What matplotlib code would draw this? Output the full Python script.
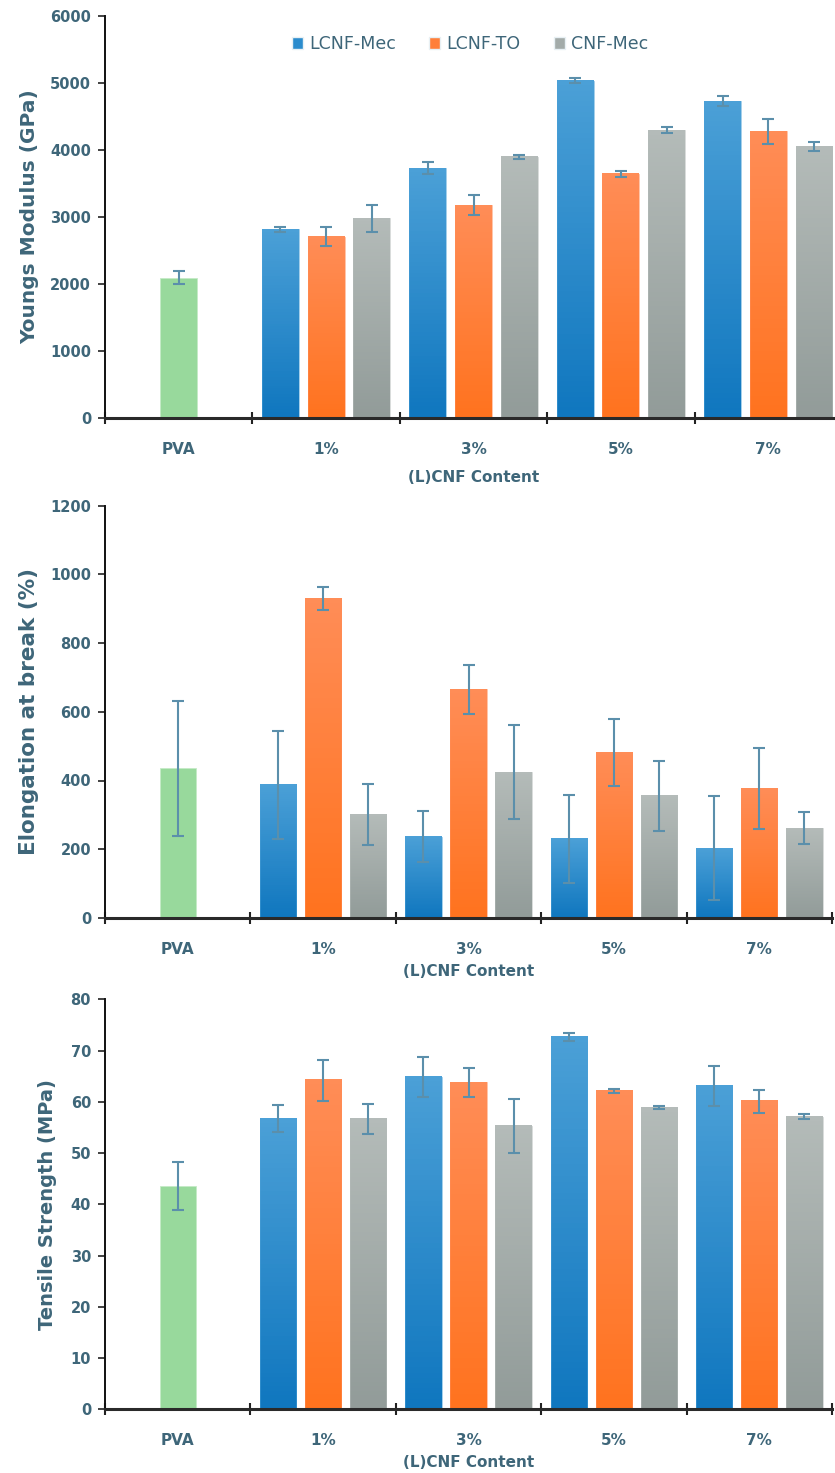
import numpy as np
import matplotlib
matplotlib.use("Agg")
import matplotlib.pyplot as plt
from matplotlib.colors import LinearSegmentedColormap
from matplotlib.patches import Patch

groups = ["1%", "3%", "5%", "7%"]
tick_labels = ["PVA"] + groups
series = ["LCNF-Mec", "LCNF-TO", "CNF-Mec"]

# Young's modulus (GPa)
pva_mod, pva_mod_err = 2095, 100
mod_mec = [2815, 3727, 5037, 4728]
mod_mec_err = [40, 90, 40, 77]
mod_to = [2705, 3173, 3643, 4279]
mod_to_err = [140, 150, 40, 185]
mod_cnf = [2983, 3896, 4294, 4055]
mod_cnf_err = [200, 35, 47, 65]

# Elongation at break (%)
pva_elo, pva_elo_err = 436, 196
elo_mec = [388, 237, 230, 203]
elo_mec_err = [157, 75, 128, 152]
elo_to = [930, 665, 481, 377]
elo_to_err = [33, 72, 98, 117]
elo_cnf = [301, 424, 356, 261]
elo_cnf_err = [88, 137, 102, 47]

# Tensile strength (MPa)
pva_ts, pva_ts_err = 43.5, 4.7
ts_mec = [56.7, 64.9, 72.6, 63.1]
ts_mec_err = [2.65, 3.9, 0.75, 3.85]
ts_to = [64.2, 63.8, 62.1, 60.1]
ts_to_err = [4.05, 2.8, 0.45, 2.2]
ts_cnf = [56.7, 55.3, 58.8, 57.1]
ts_cnf_err = [2.95, 5.3, 0.3, 0.5]

text_color = "#3e6679"
err_color = "#5b8fab"
gradients = {
    "LCNF-Mec": ("#4ba0d7", "#1077bf"),
    "LCNF-TO": ("#ff8d57", "#ff731f"),
    "CNF-Mec": ("#b4bbb9", "#929c99"),
}
solid = {"LCNF-Mec": "#2b8ccd", "LCNF-TO": "#ff7f3a", "CNF-Mec": "#a3aba9"}
pva_color = "#98d99c"

fig = plt.figure(figsize=(8.35, 14.73), dpi=100)

W = 0.25
OFF = 0.31


def gradient_bar(ax, x, h, top, bottom):
    cmap = LinearSegmentedColormap.from_list("g", [bottom, top])
    grad = np.linspace(0, 1, 64).reshape(-1, 1)
    ax.imshow(grad, cmap=cmap, origin="lower", aspect="auto",
              extent=(x - W / 2, x + W / 2, 0, h), zorder=2,
              interpolation="nearest")
    ax.bar(x, h, W, facecolor="none", edgecolor=top, linewidth=0.6,
           alpha=0.6, zorder=3)


def panel(rect, ymax, ystep, pva, pva_err, data, errs, ylabel, ysize, labelpad, xpad):
    ax = fig.add_axes(rect)
    ax.bar(0.5, pva, W, color=pva_color, edgecolor="#c4eac6", linewidth=0.6, zorder=2)
    ax.errorbar(0.5, pva, yerr=pva_err, fmt="none", ecolor=err_color,
                elinewidth=1.5, capsize=4, capthick=1.5, zorder=4)
    centers = np.arange(len(groups)) + 1.5
    for k, name in enumerate(series):
        xs = centers + (k - 1) * OFF
        for x, v, e in zip(xs, data[k], errs[k]):
            gradient_bar(ax, x, v, *gradients[name])
            ax.errorbar(x, v, yerr=e, fmt="none", ecolor=err_color,
                        elinewidth=1.5, capsize=4, capthick=1.5, zorder=4)
    ax.set_xlim(0, 5)
    ax.set_ylim(0, ymax)
    ax.set_yticks(np.arange(0, ymax + ystep / 2, ystep))
    ax.set_xticks(np.arange(5) + 0.5)
    ax.set_xticks(np.arange(6), minor=True)
    ax.set_xticklabels(tick_labels)
    ax.tick_params(axis="x", which="major", length=0, pad=17,
                   labelsize=11, labelcolor=text_color)
    ax.tick_params(axis="x", which="minor", length=9, width=1.5,
                   direction="inout", color="#222222")
    ax.tick_params(axis="y", length=5, width=1.2, color="#222222",
                   labelsize=10.5, labelcolor=text_color, pad=5)
    for lab in ax.get_xticklabels() + ax.get_yticklabels():
        lab.set_fontweight("bold")
    for s in ("top", "right"):
        ax.spines[s].set_visible(False)
    ax.spines["left"].set_color("#111111")
    ax.spines["left"].set_linewidth(1.4)
    ax.spines["bottom"].set_color("#2a2a2a")
    ax.spines["bottom"].set_linewidth(2.2)
    ax.spines["bottom"].set_zorder(5)
    ax.set_ylabel(ylabel, fontsize=ysize, fontweight="bold", color=text_color,
                  labelpad=labelpad)
    ax.set_xlabel("(L)CNF Content", fontsize=11, fontweight="bold",
                  color=text_color, labelpad=xpad)
    return ax


ax1 = panel([105 / 835, 1 - 418 / 1473, 737 / 835, 402 / 1473], 6000, 1000,
            pva_mod, pva_mod_err, [mod_mec, mod_to, mod_cnf],
            [mod_mec_err, mod_to_err, mod_cnf_err], "Youngs Modulus (GPa)", 14.5, 8, 10)
ax2 = panel([105 / 835, 1 - 918 / 1473, 727 / 835, 412.5 / 1473], 1200, 200,
            pva_elo, pva_elo_err, [elo_mec, elo_to, elo_cnf],
            [elo_mec_err, elo_to_err, elo_cnf_err], "Elongation at break (%)", 15.5, 8, 5)
ax3 = panel([105 / 835, 1 - 1409.3 / 1473, 727 / 835, 410 / 1473], 80, 10,
            pva_ts, pva_ts_err, [ts_mec, ts_to, ts_cnf],
            [ts_mec_err, ts_to_err, ts_cnf_err], "Tensile Strength (MPa)", 14, 10, 5)

handles = [Patch(facecolor=solid[s], edgecolor="#e8f0f4") for s in series]
fig.legend(handles, series, loc="center", bbox_to_anchor=(470 / 835, 1 - 44 / 1473),
           ncol=3, frameon=False, fontsize=12.5, labelcolor=text_color,
           handlelength=0.65, handleheight=0.65, handletextpad=0.35,
           columnspacing=1.9)

fig.savefig("out.png", dpi=100)
